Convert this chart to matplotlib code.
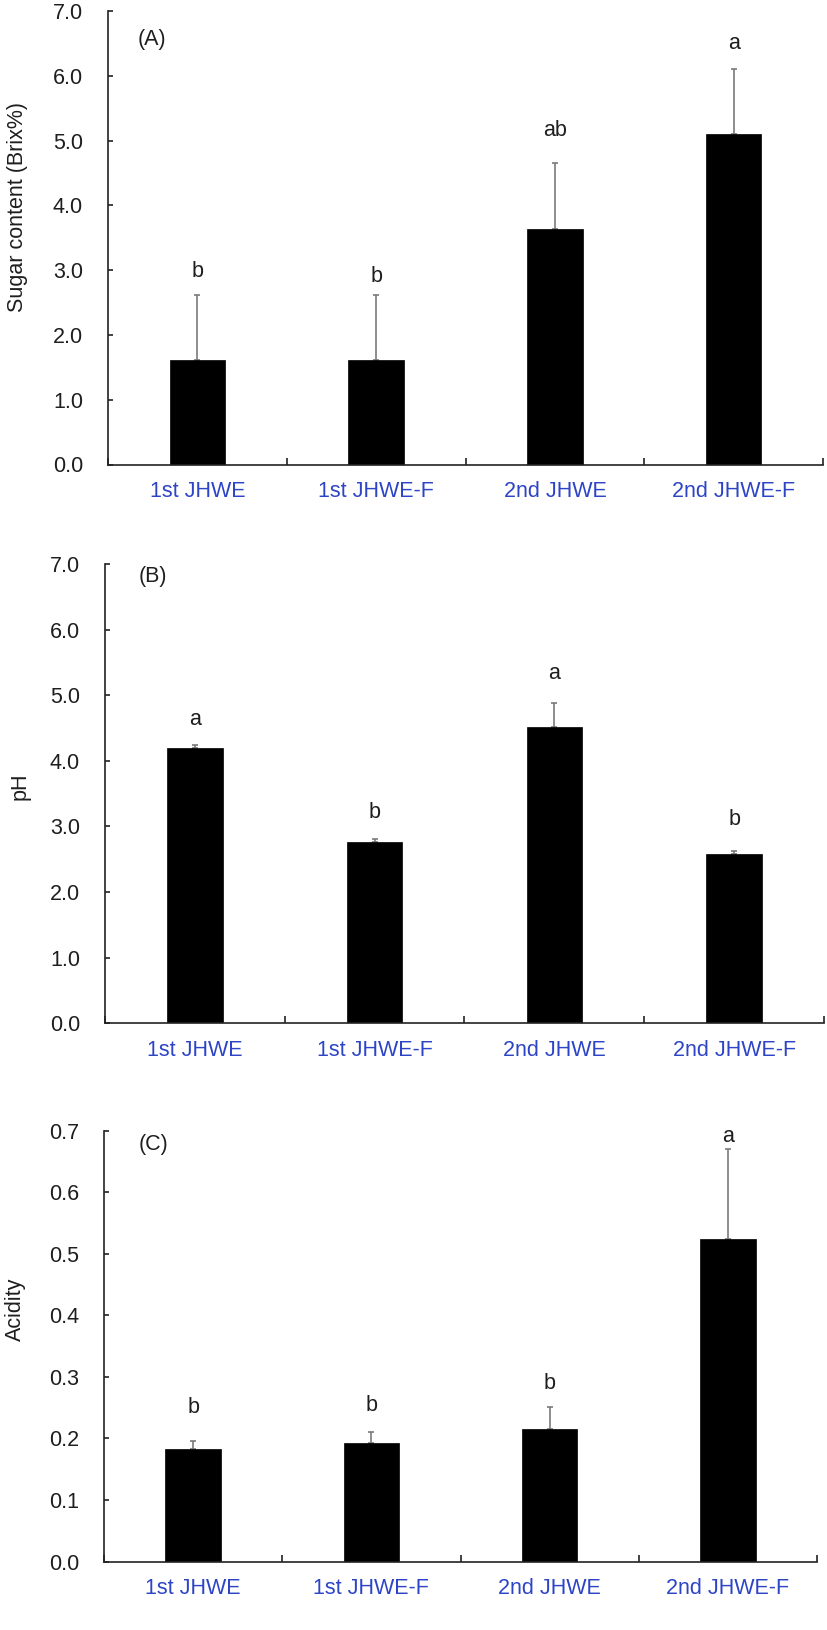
import matplotlib
matplotlib.use("Agg")
import matplotlib.pyplot as plt
import numpy as np

# ---------------- data ----------------
categories = ["1st JHWE", "1st JHWE-F", "2nd JHWE", "2nd JHWE-F"]

sugar_mean = [1.62, 1.61, 3.64, 5.10]
sugar_err = [1.00, 1.00, 1.01, 1.01]
sugar_letters = ["b", "b", "ab", "a"]

ph_mean = [4.19, 2.76, 4.51, 2.58]
ph_err = [0.05, 0.05, 0.37, 0.05]
ph_letters = ["a", "b", "a", "b"]

acid_mean = [0.183, 0.193, 0.216, 0.524]
acid_err = [0.013, 0.018, 0.035, 0.147]
acid_letters = ["b", "b", "b", "a"]

panel_tags = ["(A)", "(B)", "(C)"]
ylabels = ["Sugar content (Brix%)", "pH", "Acidity"]
yticks_A = [0.0, 1.0, 2.0, 3.0, 4.0, 5.0, 6.0, 7.0]
yticks_B = [0.0, 1.0, 2.0, 3.0, 4.0, 5.0, 6.0, 7.0]
yticks_C = [0.0, 0.1, 0.2, 0.3, 0.4, 0.5, 0.6, 0.7]

# ---------------- style ----------------
plt.rcParams["font.family"] = ["Liberation Sans", "DejaVu Sans"]
FS = 15.5
BLUE = "#2d44c6"
TXT = "#1e1e1e"
DPI = 100
W, H = 827, 1630

fig = plt.figure(figsize=(W / DPI, H / DPI), dpi=DPI)

# axes boxes in pixels: left, right, top, bottom
boxes = [(108, 823, 11, 464.5), (105, 824, 564, 1023.3), (104, 817, 1130.7, 1561.5)]
label_pos = [(18, 0.567), (20, 0.517), (15, 0.586)]
tag_pos = [(152, 0.938), (153, 0.972), (153, 0.969)]
letter_off_px = [[23, 19, 33, 25], [26, 26, 30, 31], [33, 26, 24, 12]]

panels = [
    (sugar_mean, sugar_err, sugar_letters, yticks_A, "{:.1f}"),
    (ph_mean, ph_err, ph_letters, yticks_B, "{:.1f}"),
    (acid_mean, acid_err, acid_letters, yticks_C, "{:.1f}"),
]

for i, (means, errs, letters, yticks, fmt) in enumerate(panels):
    l, r, t, b = boxes[i]
    ax = fig.add_axes([l / W, 1 - b / H, (r - l) / W, (b - t) / H])
    x = np.arange(len(categories)) + 0.5
    lower = np.zeros(len(means))
    ax.errorbar(x, means, yerr=[lower, errs], fmt="none", ecolor="#7a7a7a",
                elinewidth=1.2, capsize=2.5, capthick=1.2, zorder=1)
    ax.bar(x, means, width=0.31, color="black", edgecolor="black", linewidth=0.5, zorder=2)
    for j, (xi, m, e, let) in enumerate(zip(x, means, errs, letters)):
        ax.annotate(let, xy=(xi, m + e), xytext=(0, letter_off_px[i][j] * 0.72),
                    textcoords="offset points", ha="center", va="center",
                    fontsize=FS, color=TXT)

    ax.set_xlim(0, len(categories))
    ax.set_ylim(yticks[0], yticks[-1])
    ax.set_yticks(yticks)
    ax.set_yticklabels([fmt.format(v) for v in yticks], fontsize=FS, color=TXT)
    ax.set_xticks(np.arange(len(categories) + 1))
    ax.set_xticklabels([])
    ax.set_xticks(x, minor=True)
    ax.set_xticklabels(categories, minor=True, fontsize=FS, color=BLUE)
    ax.tick_params(axis="x", which="major", direction="in", length=5, width=1.2, color="#222222")
    ax.tick_params(axis="x", which="minor", length=0, pad=12)
    ax.tick_params(axis="y", direction="in", length=3.6, width=1.2, color="#222222", pad=18)

    for s in ["top", "right"]:
        ax.spines[s].set_visible(False)
    for s in ["left", "bottom"]:
        ax.spines[s].set_linewidth(1.2)
        ax.spines[s].set_color("#222222")

    ax.set_ylabel(ylabels[i], fontsize=FS, color=TXT)
    lx, ly = label_pos[i]
    ax.yaxis.set_label_coords((lx - l) / (r - l), ly)
    ax.yaxis.label.set_va("center")

    tx, ty = tag_pos[i]
    ax.text((tx - l) / (r - l), ty, panel_tags[i], transform=ax.transAxes,
            ha="center", va="center", fontsize=FS, color=TXT)

fig.savefig("out.png", dpi=DPI)
